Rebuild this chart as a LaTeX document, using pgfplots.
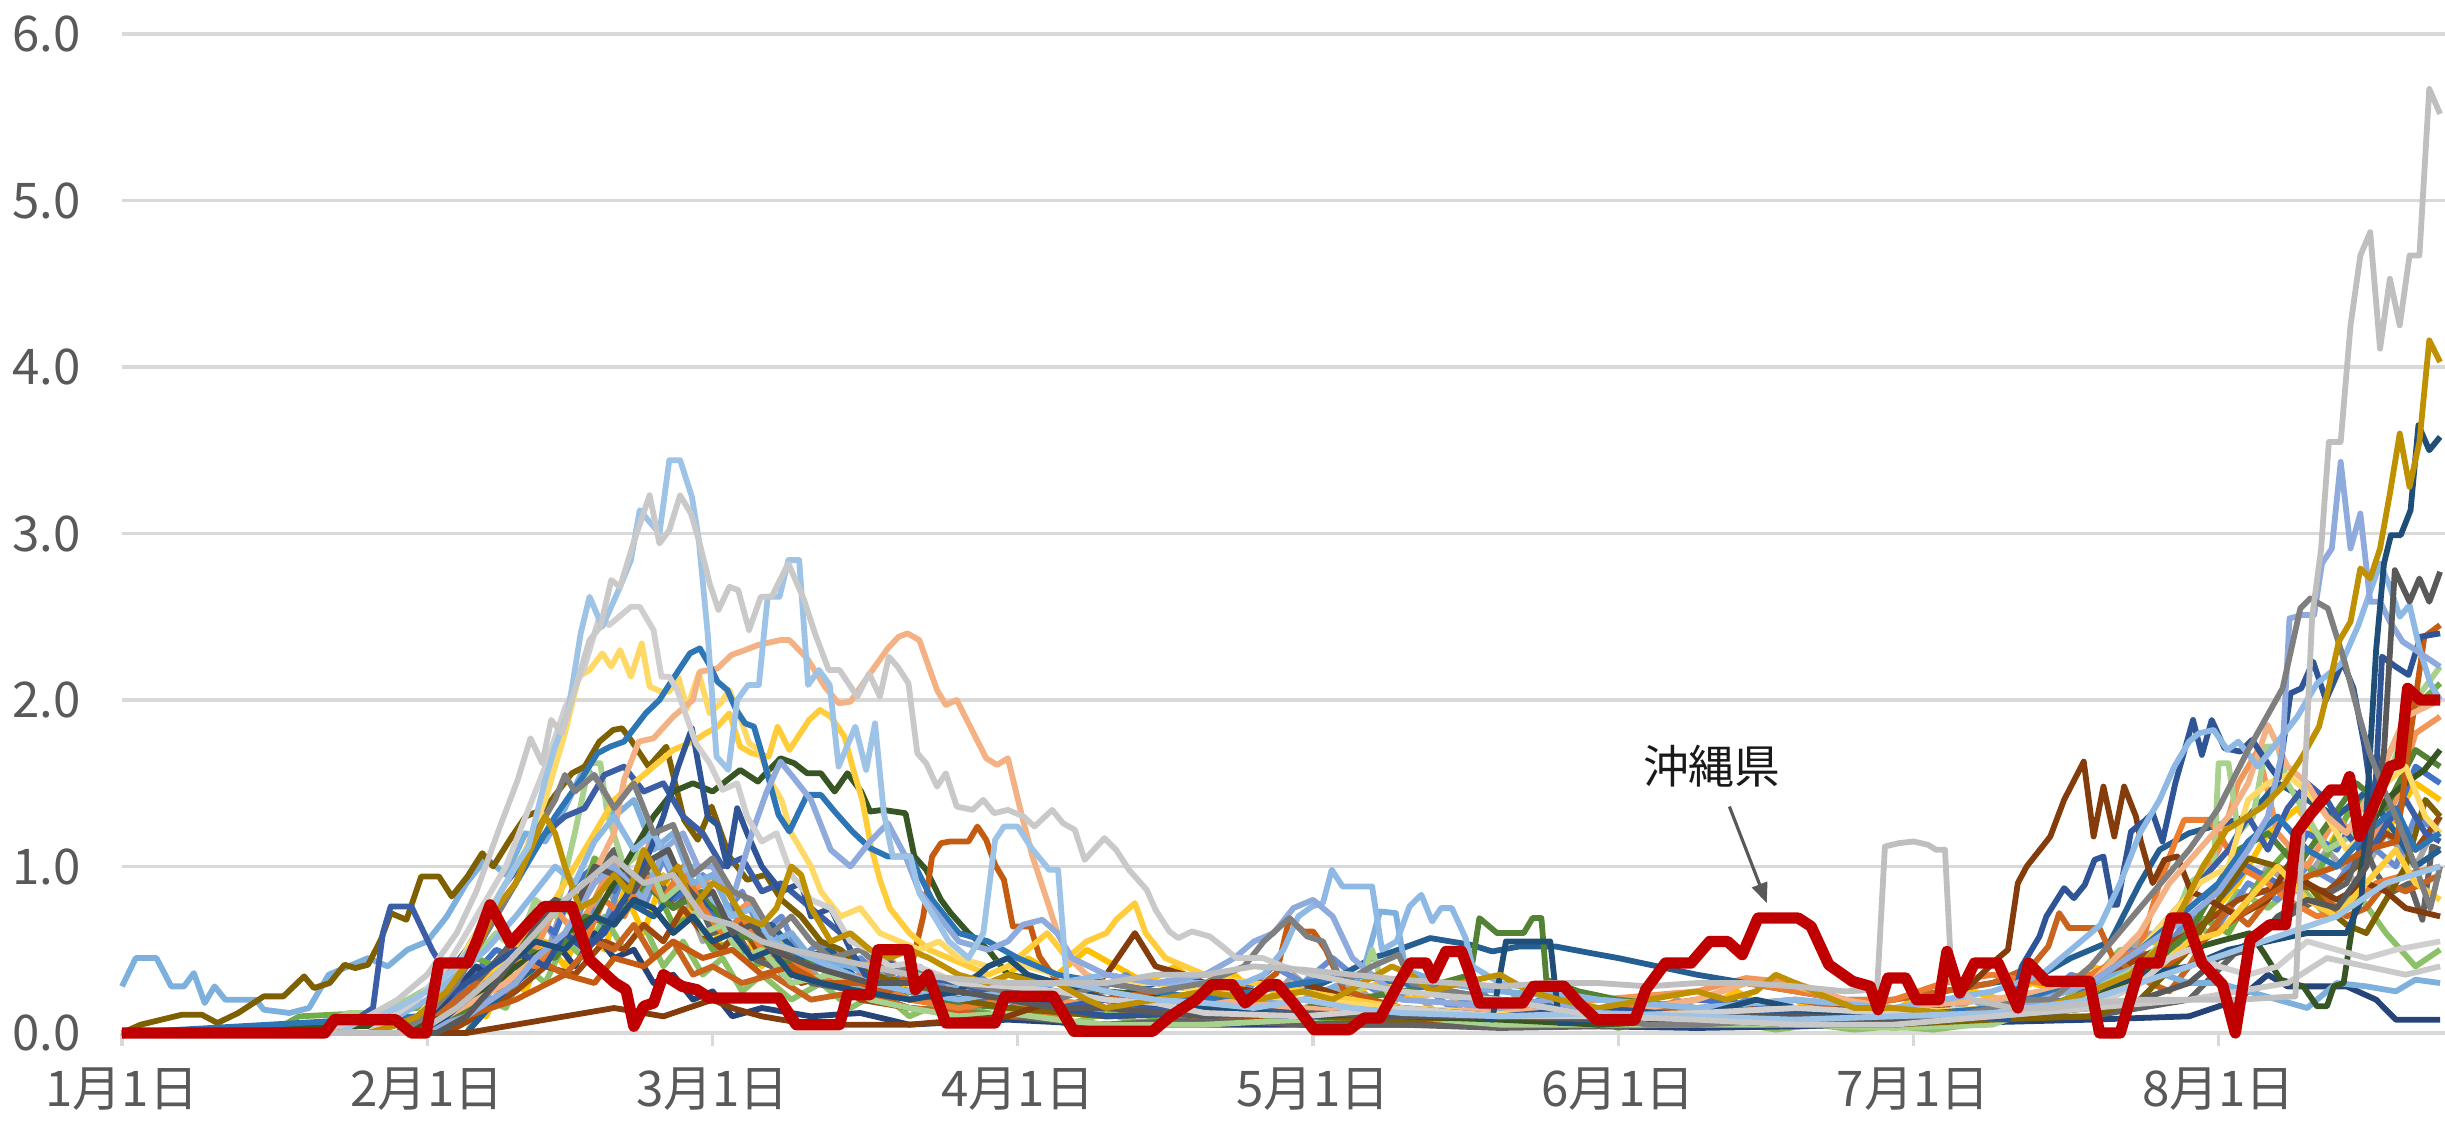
\documentclass[border=0pt]{standalone}
\usepackage{fontspec}
\setmainfont{Noto Sans CJK JP}
\usepackage{pgfplots}
\pgfplotsset{compat=1.18}
\usetikzlibrary{arrows.meta}
\definecolor{cA}{HTML}{C9C9C9}
\definecolor{cB}{HTML}{D0CECE}
\definecolor{cC}{HTML}{BFBFBF}
\definecolor{cGs}{HTML}{7F7F7F}
\definecolor{cGd}{HTML}{595959}
\definecolor{cGold}{HTML}{BF9000}
\definecolor{cNavy}{HTML}{1F4E79}
\definecolor{cPeri}{HTML}{8FAADC}
\definecolor{cLBa}{HTML}{9DC3E6}
\definecolor{cLBb}{HTML}{8DB9E4}
\definecolor{cLBc}{HTML}{7EB0DE}
\definecolor{cDB}{HTML}{2F5597}
\definecolor{cDBb}{HTML}{3B5EA6}
\definecolor{cBlue}{HTML}{2E75B6}
\definecolor{cSal}{HTML}{F4B183}
\definecolor{cYa}{HTML}{FFD966}
\definecolor{cYb}{HTML}{FFCC3A}
\definecolor{cDG}{HTML}{375623}
\definecolor{cGm}{HTML}{548235}
\definecolor{cLG}{HTML}{A9D18E}
\definecolor{cBr}{HTML}{843C0C}
\definecolor{cOB}{HTML}{C55A11}
\definecolor{cOBb}{HTML}{C8641E}
\definecolor{cOr}{HTML}{ED7D31}
\definecolor{cOl}{HTML}{7F6000}
\definecolor{cSB}{HTML}{255E91}
\definecolor{cFa}{HTML}{4472C4}
\definecolor{cFb}{HTML}{70AD47}
\definecolor{cFc}{HTML}{F1975A}
\definecolor{cFd}{HTML}{264478}
\definecolor{cFe}{HTML}{9E480E}
\definecolor{cFf}{HTML}{636363}
\definecolor{cJa}{HTML}{A5A5A5}
\definecolor{cJb}{HTML}{FFC000}
\definecolor{cJc}{HTML}{8CC168}
\definecolor{cJd}{HTML}{698ED0}
\definecolor{okired}{HTML}{C00000}
\definecolor{gridc}{HTML}{D9D9D9}
\definecolor{labc}{HTML}{595959}
\begin{document}
\begin{tikzpicture}
\useasboundingbox (-1.22cm,-0.91cm) rectangle (23.23cm,10.33cm);
\begin{axis}[
  at={(0,0)}, anchor=south west,
  scale only axis, width=23.23cm, height=9.99cm,
  xmin=0, xmax=236, ymin=0, ymax=6,
  clip=false,
  axis line style={draw=none},
  ymajorgrids, grid style={draw=gridc, line width=0.9pt},
  ytick={0,1,2,3,4,5,6}, yticklabels={0.0,1.0,2.0,3.0,4.0,5.0,6.0},
  xtick={0,31,60,91,121,152,182,213},
  xticklabels={1月1日,2月1日,3月1日,4月1日,5月1日,6月1日,7月1日,8月1日},
  xtick pos=bottom,
  tick align=outside,
  major tick length=0.13cm,
  xtick style={draw=gridc, line width=0.9pt},
  ytick style={draw=none},
  ticklabel style={font=\fontsize{14}{16}\selectfont, text=labc},
  yticklabel style={xshift=-0.16cm},
  xticklabel style={yshift=-0.09cm},
  every axis plot/.append style={line width=1.65pt, line join=round, mark=none},
]
% fillers
\addplot[cJa] coordinates {(0,0)(30,0)(33,0.2)(35,0.1)(37,0.4)(39,0.3)(41,0.6)(43,0.45)(45,0.8)(47,0.6)(49,0.9)(51,0.7)(53,1.0)(55,0.75)(57,0.85)(59,0.55)(61,0.7)(63,0.45)(65,0.6)(67,0.35)(69,0.5)(71,0.3)(73,0.4)(75,0.25)(77,0.35)(80,0.2)(83,0.3)(86,0.15)(89,0.25)(92,0.1)(95,0.2)(98,0.3)(101,0.15)(104,0.25)(107,0.1)(110,0.2)(113,0.3)(116,0.15)(119,0.35)(122,0.2)(125,0.3)(128,0.15)(131,0.25)(134,0.1)(137,0.2)(140,0.3)(143,0.15)(146,0.25)(149,0.1)(152,0.2)(155,0.1)(158,0.2)(161,0.1)(164,0.25)(167,0.15)(170,0.2)(173,0.1)(176,0.15)(179,0.05)(182,0.15)(185,0.1)(188,0.2)(191,0.1)(194,0.2)(197,0.3)(200,0.25)(203,0.45)(206,0.6)(209,0.5)(212,0.8)(215,0.7)(218,1.0)(221,0.85)(224,1.1)(227,0.9)(230,1.2)(233,1.0)(235.5,1.3)};
\addplot[cJb] coordinates {(0,0)(33,0)(35,0.15)(37,0.1)(39,0.35)(41,0.25)(43,0.55)(45,0.4)(47,0.7)(49,0.5)(51,0.85)(53,0.6)(55,0.95)(57,0.7)(59,0.8)(61,0.5)(63,0.65)(65,0.4)(67,0.55)(69,0.35)(71,0.45)(74,0.3)(77,0.4)(80,0.25)(83,0.35)(86,0.2)(89,0.3)(92,0.45)(95,0.35)(98,0.5)(101,0.4)(104,0.3)(107,0.4)(110,0.25)(113,0.35)(116,0.2)(119,0.3)(122,0.15)(125,0.25)(128,0.3)(131,0.2)(134,0.25)(137,0.15)(140,0.2)(143,0.1)(146,0.2)(149,0.15)(152,0.1)(155,0.2)(158,0.1)(161,0.15)(164,0.25)(167,0.15)(170,0.2)(173,0.1)(176,0.15)(179,0.1)(182,0.2)(185,0.15)(188,0.25)(191,0.2)(194,0.3)(197,0.25)(200,0.4)(203,0.35)(206,0.55)(209,0.5)(212,0.7)(215,0.9)(218,1.2)(221,1.35)(224,1.1)(227,1.4)(230,1.2)(233,1.5)(235.5,1.4)};
\addplot[cJc] coordinates {(0,0)(35,0)(37,0.2)(39,0.15)(41,0.4)(43,0.3)(45,0.55)(47,0.45)(49,0.7)(51,0.5)(53,0.65)(55,0.4)(57,0.55)(59,0.35)(61,0.45)(63,0.25)(65,0.35)(68,0.2)(71,0.3)(74,0.15)(77,0.25)(80,0.1)(84,0.2)(88,0.1)(92,0.15)(96,0.05)(100,0.12)(104,0.05)(108,0.1)(112,0.05)(116,0.12)(120,0.05)(124,0.15)(128,0.08)(132,0.12)(136,0.05)(140,0.1)(144,0.05)(148,0.1)(152,0.03)(156,0.08)(160,0.03)(164,0.06)(168,0.02)(172,0.05)(176,0.02)(180,0.04)(184,0.02)(188,0.05)(192,0.1)(196,0.15)(200,0.3)(203,0.5)(206,0.45)(209,0.7)(212,0.6)(215,0.85)(218,0.75)(221,0.9)(224,0.7)(227,0.85)(230,0.6)(233,0.4)(235.5,0.5)};
\addplot[cJd] coordinates {(0,0)(28,0)(31,0.1)(33,0.05)(35,0.25)(37,0.2)(39,0.45)(41,0.35)(43,0.65)(45,0.5)(47,0.8)(49,0.65)(51,0.95)(53,0.75)(55,1.05)(57,0.8)(59,0.95)(61,0.7)(63,0.85)(65,0.6)(67,0.7)(69,0.45)(71,0.55)(73,0.35)(75,0.45)(78,0.3)(81,0.4)(84,0.25)(87,0.35)(90,0.2)(93,0.3)(96,0.15)(99,0.25)(102,0.35)(105,0.2)(108,0.3)(111,0.15)(114,0.25)(117,0.4)(120,0.3)(123,0.45)(126,0.3)(129,0.2)(132,0.3)(135,0.15)(138,0.25)(141,0.1)(144,0.2)(147,0.1)(150,0.15)(153,0.05)(156,0.12)(159,0.05)(162,0.1)(165,0.2)(168,0.1)(171,0.15)(174,0.05)(177,0.1)(180,0.05)(183,0.12)(186,0.08)(189,0.15)(192,0.1)(195,0.2)(198,0.35)(201,0.3)(204,0.5)(207,0.45)(210,0.7)(213,0.65)(216,0.9)(219,0.8)(222,1.0)(225,0.9)(228,1.15)(231,1.0)(233,1.3)(235.5,1.2)};
\addplot[cFa] coordinates {(0,0)(28,0)(32,0.1)(35,0.3)(38,0.5)(40,0.45)(42,0.7)(44,0.6)(46,0.9)(48,1.0)(50,0.85)(52,1.1)(54,0.95)(56,0.8)(58,0.9)(60,0.7)(62,0.75)(64,0.55)(66,0.6)(68,0.4)(70,0.45)(73,0.3)(76,0.35)(80,0.2)(85,0.25)(90,0.15)(95,0.2)(100,0.1)(110,0.15)(120,0.2)(130,0.1)(140,0.15)(150,0.1)(160,0.2)(170,0.15)(180,0.1)(190,0.15)(198,0.2)(203,0.4)(207,0.6)(210,0.5)(213,0.8)(216,1.0)(219,0.9)(222,1.2)(225,1.1)(228,1.4)(231,1.3)(233,1.6)(235.5,1.5)};
\addplot[cFb] coordinates {(0,0)(15,0)(18,0.1)(25,0.12)(30,0.15)(33,0.3)(36,0.45)(38,0.4)(40,0.6)(42,0.55)(44,0.8)(46,0.7)(48,1.05)(50,0.95)(52,0.8)(54,0.9)(56,0.65)(58,0.7)(60,0.5)(62,0.55)(64,0.4)(66,0.45)(68,0.3)(72,0.35)(75,0.2)(80,0.25)(85,0.15)(90,0.1)(100,0.05)(110,0.1)(120,0.08)(130,0.1)(140,0.05)(150,0.08)(160,0.05)(170,0.1)(180,0.05)(190,0.08)(200,0.15)(205,0.3)(208,0.5)(211,0.7)(214,0.6)(217,0.9)(220,1.1)(223,0.95)(226,1.3)(229,1.5)(232,1.9)(235.5,2.1)};
\addplot[cFc] coordinates {(0,0)(32,0)(35,0.15)(38,0.35)(40,0.6)(42,0.5)(44,0.75)(46,0.6)(48,0.8)(50,1.05)(52,0.9)(54,1.2)(56,1.0)(58,0.85)(60,0.95)(62,0.7)(64,0.8)(66,0.55)(68,0.6)(70,0.45)(72,0.5)(75,0.4)(78,0.45)(80,0.3)(85,0.25)(90,0.3)(95,0.2)(100,0.15)(110,0.1)(120,0.15)(130,0.1)(140,0.12)(150,0.2)(160,0.25)(165,0.33)(170,0.3)(175,0.2)(180,0.1)(190,0.15)(200,0.3)(205,0.5)(210,0.8)(213,1.1)(215,1.5)(217,1.7)(219,1.2)(222,1.0)(225,1.3)(228,1.1)(231,1.4)(233,1.8)(235.5,1.9)};
\addplot[cFd] coordinates {(0,0)(30,0)(33,0.2)(36,0.4)(38,0.3)(40,0.5)(42,0.4)(44,0.55)(46,0.4)(48,0.6)(50,0.45)(52,0.5)(54,0.3)(56,0.35)(58,0.2)(60,0.25)(62,0.1)(65,0.15)(70,0.1)(75,0.12)(80,0.05)(90,0.08)(100,0.05)(120,0.05)(140,0.05)(160,0.03)(180,0.05)(200,0.08)(210,0.1)(215,0.2)(218,0.35)(220,0.28)(223,0.28)(226,0.28)(229,0.2)(231,0.08)(235.5,0.08)};
\addplot[cFe] coordinates {(0,0)(33,0)(36,0.1)(40,0.25)(43,0.4)(46,0.35)(49,0.55)(51,0.5)(53,0.65)(55,0.55)(57,0.75)(59,0.6)(61,0.5)(63,0.65)(65,0.45)(67,0.5)(69,0.3)(72,0.35)(75,0.2)(80,0.15)(90,0.1)(100,0.15)(110,0.1)(120,0.05)(140,0.08)(160,0.05)(180,0.1)(190,0.1)(195,0.2)(200,0.3)(205,0.45)(210,0.6)(215,0.8)(220,0.9)(224,0.85)(227,1.0)(230,1.2)(233,1.1)(235.5,1.3)};
\addplot[cFf] coordinates {(0,0)(25,0)(28,0.05)(32,0.1)(36,0.3)(39,0.5)(42,0.7)(44,0.8)(46,0.75)(48,0.95)(50,1.1)(52,0.9)(54,1.0)(56,0.75)(58,0.85)(60,0.6)(62,0.65)(64,0.45)(66,0.4)(68,0.5)(70,0.3)(75,0.25)(80,0.15)(90,0.1)(100,0.05)(110,0.08)(120,0.05)(130,0.05)(140,0.03)(160,0.05)(180,0.08)(200,0.1)(210,0.2)(215,0.5)(220,0.7)(223,0.8)(226,0.9)(227.7,1.14)(229,0.96)(230.4,0.84)(232.4,0.9)(233.7,0.68)(234.7,1.12)(235.5,1.1)};
% named series
\addplot[cSB] coordinates {(0,0)(35,0)(38,0.2)(42,0.4)(45,0.6)(48,0.55)(51,0.8)(54,0.7)(57,0.9)(60,0.75)(63,0.6)(66,0.65)(69,0.45)(72,0.5)(75,0.3)(80,0.25)(85,0.2)(90,0.3)(95,0.25)(100,0.2)(105,0.3)(110,0.25)(115,0.2)(120,0.25)(124,0.35)(127,0.45)(129.2,0.49)(132.9,0.57)(137,0.53)(139.2,0.49)(142,0.52)(145.6,0.52)(149.2,0.48)(152,0.45)(156,0.4)(160,0.35)(165,0.3)(170,0.25)(175,0.2)(180,0.2)(185,0.25)(190,0.3)(195,0.35)(198,0.45)(202,0.55)(205,0.9)(207,1.1)(210,1.2)(213,1.25)(216,1.3)(219,1.5)(222,1.4)(225,1.3)(228,1.45)(231,1.2)(233,1.0)(235.5,1.1)};
\addplot[cGm] coordinates {(0,0)(30,0)(34,0.1)(38,0.3)(41,0.5)(44,0.45)(47,0.7)(50,0.65)(53,0.9)(56,0.75)(59,0.85)(62,0.6)(65,0.55)(68,0.4)(71,0.45)(75,0.3)(80,0.2)(90,0.15)(100,0.1)(110,0.15)(115,0.2)(120,0.15)(125,0.2)(130,0.25)(134,0.3)(137,0.35)(137.9,0.69)(139.7,0.6)(142.4,0.6)(143.3,0.69)(144.2,0.69)(144.7,0.32)(148,0.25)(152,0.2)(160,0.15)(170,0.1)(180,0.08)(190,0.1)(200,0.2)(205,0.35)(210,0.6)(213,0.9)(215,1.1)(218,1.2)(221,1.0)(224,1.25)(227,1.5)(230,1.35)(233,1.7)(235.5,1.6)};
\addplot[cOBb] coordinates {(0,0)(30,0)(33,0.15)(36,0.3)(39,0.25)(42,0.45)(45,0.35)(48,0.55)(50,0.5)(52,0.65)(54,0.45)(56,0.55)(58,0.35)(60,0.4)(63,0.3)(66,0.35)(70,0.2)(75,0.25)(80,0.15)(90,0.1)(100,0.15)(110,0.1)(120,0.12)(130,0.1)(140,0.15)(150,0.1)(160,0.15)(170,0.2)(175,0.15)(180,0.2)(185,0.25)(190,0.3)(194,0.4)(195.7,0.52)(196.8,0.72)(197.8,0.63)(200.9,0.63)(202.2,0.46)(204,0.38)(206,0.3)(208,0.25)(210,0.4)(212,0.6)(214,0.75)(216,0.65)(218,0.8)(220,1.0)(222,0.9)(224,0.8)(226,0.7)(228,0.75)(230,0.9)(232,0.85)(235.5,0.95)};
\addplot[cOr] coordinates {(0,0)(30,0)(33,0.1)(36,0.25)(39,0.45)(42,0.4)(45,0.6)(47,0.55)(49,0.8)(51,0.7)(53,0.95)(55,0.8)(57,1.0)(59,0.75)(61,0.6)(63,0.7)(65,0.5)(68,0.45)(71,0.3)(75,0.35)(80,0.2)(85,0.15)(90,0.2)(95,0.1)(100,0.15)(110,0.1)(120,0.12)(130,0.15)(140,0.1)(150,0.12)(160,0.2)(165,0.3)(170,0.25)(175,0.2)(180,0.2)(185,0.3)(190,0.35)(195,0.3)(200,0.35)(203,0.45)(205,0.5)(207,0.9)(208.8,1.18)(209.5,1.28)(212,1.28)(213,1.2)(215,1.0)(218,0.9)(220,0.8)(223,0.7)(226,0.75)(229,0.9)(232,0.95)(235.5,1.0)};
\addplot[cLBc] coordinates {(0,0.28)(1.4,0.45)(3.5,0.45)(5,0.28)(6.3,0.28)(7.3,0.36)(8.4,0.18)(9.4,0.28)(10.5,0.2)(13.6,0.2)(14.4,0.14)(17,0.12)(19,0.15)(21,0.35)(23,0.4)(25,0.45)(27,0.4)(29,0.5)(31,0.55)(33,0.7)(35,0.9)(37,1.05)(39,0.95)(41,1.2)(43,1.15)(45,1.35)(47,1.6)(48.5,1.5)(50,1.3)(52,1.4)(54,1.1)(56,1.2)(58,0.9)(60,0.95)(62,0.7)(64,0.75)(66,0.55)(68,0.6)(70,0.45)(74,0.4)(78,0.3)(82,0.35)(86,0.25)(90,0.2)(95,0.15)(100,0.2)(110,0.15)(120,0.2)(126,0.35)(127.8,0.73)(129.4,0.72)(130.4,0.38)(134,0.3)(140,0.25)(150,0.2)(160,0.15)(170,0.2)(180,0.15)(190,0.2)(200,0.3)(205,0.4)(210,0.3)(213,0.3)(216,0.25)(219,0.2)(222,0.15)(225,0.3)(228,0.28)(231,0.25)(233,0.32)(235.5,0.3)};
\addplot[cLG] coordinates {(0,0)(15,0)(20,0.05)(23,0.12)(26,0.12)(29,0.2)(32,0.3)(35,0.4)(38,0.6)(40,0.5)(42,0.8)(44,0.7)(46,1.2)(47.5,1.62)(48.6,1.62)(49.3,1.32)(51,1.0)(53,1.1)(55,0.8)(57,0.9)(59,0.6)(61,0.65)(63,0.45)(65,0.5)(68,0.3)(72,0.35)(76,0.2)(80,0.15)(85,0.1)(90,0.12)(95,0.08)(100,0.05)(110,0.05)(120,0.08)(125,0.12)(127,0.5)(128,0.3)(130,0.1)(140,0.05)(150,0.05)(160,0.05)(170,0.05)(180,0.03)(190,0.05)(195,0.15)(200,0.25)(205,0.4)(208,0.6)(210,0.9)(212.5,1.0)(213,1.62)(214,1.62)(215,1.2)(216.5,1.3)(217.8,1.72)(219,1.72)(220,1.5)(222,1.3)(224,1.1)(227,1.2)(230,1.5)(233,2.0)(235.5,2.2)};
\addplot[cOl] coordinates {(0,0)(1.9,0.05)(6.1,0.11)(8.1,0.11)(9.7,0.06)(11.8,0.12)(14.4,0.22)(16.4,0.22)(18.5,0.34)(19.5,0.27)(21.1,0.3)(22.6,0.41)(23.7,0.39)(25,0.41)(26.3,0.56)(27.3,0.72)(28.9,0.68)(30.4,0.94)(32.2,0.94)(33.5,0.82)(35.1,0.94)(36.6,1.08)(37.7,1.0)(39.5,1.17)(41,1.3)(43,1.35)(45.7,1.56)(47,1.6)(48.5,1.75)(49.9,1.82)(50.8,1.83)(51.7,1.76)(53.5,1.6)(55.3,1.72)(57.1,1.28)(58.5,1.16)(59.9,1.36)(61.7,1.06)(63.5,0.92)(65.4,0.95)(67,0.8)(69,0.7)(71,0.55)(73,0.5)(76,0.35)(80,0.3)(85,0.2)(90,0.15)(100,0.1)(110,0.12)(120,0.1)(130,0.08)(140,0.1)(150,0.05)(160,0.08)(170,0.05)(180,0.05)(190,0.08)(200,0.1)(205,0.2)(210,0.5)(213,0.8)(216,1.05)(219,1.0)(222,0.9)(224,0.75)(226,0.65)(228,0.6)(230,0.8)(232,1.0)(234,1.4)(235.5,1.3)};
\addplot[cDBb] coordinates {(0,0)(20,0)(23,0.05)(25.5,0.15)(26.5,0.6)(27.3,0.76)(29.4,0.76)(31.5,0.5)(33,0.35)(35,0.5)(37,0.7)(39,0.9)(41,1.05)(43,1.2)(45,1.3)(47,1.35)(49,1.55)(51,1.6)(53,1.45)(55,1.5)(57,1.3)(59,1.2)(61,1.0)(63,1.05)(65,0.85)(67,0.9)(70,0.75)(73,0.6)(76,0.5)(80,0.35)(85,0.3)(90,0.2)(95,0.15)(100,0.2)(110,0.1)(120,0.15)(130,0.1)(140,0.15)(145,0.2)(150,0.1)(160,0.05)(170,0.1)(180,0.1)(185,0.15)(190,0.1)(195,0.2)(200,0.3)(205,0.5)(208,0.7)(211,0.9)(214,1.1)(216,1.3)(218,1.1)(220,1.35)(222,1.5)(224,1.4)(226,1.2)(228,1.05)(230,1.25)(232,1.4)(234,1.2)(235.5,1.15)};
\addplot[cDG] coordinates {(0,0)(30,0.05)(33,0.1)(35,0.2)(38,0.3)(40,0.4)(43,0.5)(45,0.6)(48,0.7)(50,0.9)(52,1.1)(54,1.3)(56,1.45)(58,1.5)(60,1.45)(62.8,1.58)(64.6,1.51)(66.9,1.65)(68.3,1.62)(69.6,1.56)(71,1.56)(72.4,1.45)(73.7,1.56)(75.1,1.45)(76,1.33)(77.3,1.34)(79.6,1.32)(80.5,1.06)(81.7,0.98)(83.2,0.8)(84.2,0.72)(86,0.6)(88,0.5)(90,0.35)(95,0.3)(100,0.25)(110,0.2)(120,0.15)(130,0.1)(140,0.08)(150,0.05)(160,0.08)(170,0.05)(180,0.05)(190,0.1)(200,0.2)(205,0.35)(210,0.5)(213,0.55)(216.2,0.6)(217.6,0.48)(219.3,0.32)(221.6,0.28)(223,0.16)(224,0.16)(224.7,0.28)(225.7,0.3)(227,0.8)(228,1.2)(230,1.4)(232,1.5)(233.9,1.58)(235.5,1.7)};
\addplot[cBr] coordinates {(0,0)(35,0)(40,0.05)(45,0.1)(50,0.15)(55,0.1)(60,0.2)(62,0.15)(65,0.1)(70,0.05)(80,0.05)(90,0.1)(95,0.2)(100,0.35)(102.9,0.6)(105,0.4)(108,0.35)(110,0.3)(115,0.25)(120,0.3)(125,0.2)(130,0.15)(140,0.1)(150,0.08)(160,0.1)(165,0.15)(170,0.1)(175,0.15)(180,0.1)(185,0.15)(188,0.3)(190.6,0.45)(191.6,0.5)(192.6,0.9)(193.5,1.0)(195.9,1.18)(197.3,1.4)(199.3,1.63)(200.3,1.18)(201.3,1.48)(202.4,1.18)(203.4,1.48)(204.6,1.3)(205.1,1.15)(206.3,0.9)(207.5,1.04)(208.8,1.06)(210.2,0.85)(212,0.8)(215,0.7)(218,0.8)(220,1.0)(222,0.9)(225,0.8)(228,0.9)(230,0.85)(232,0.75)(235.5,0.7)};
\addplot[cOB] coordinates {(0,0)(30,0)(35,0.1)(40,0.2)(45,0.35)(48,0.3)(50,0.45)(53,0.4)(56,0.55)(59,0.45)(62,0.5)(65,0.35)(68,0.4)(71,0.3)(75,0.3)(78,0.25)(80,0.35)(81.4,0.7)(82.3,1.06)(83.2,1.14)(84.1,1.15)(86,1.15)(86.9,1.24)(87.8,1.16)(88.7,1.01)(89.6,0.92)(90.5,0.64)(92.3,0.64)(93.2,0.46)(95,0.31)(98,0.25)(100,0.2)(105,0.25)(110,0.2)(114,0.3)(116,0.3)(117.3,0.36)(118.6,0.69)(120,0.61)(121,0.61)(122.3,0.5)(124.1,0.26)(127,0.2)(130,0.15)(140,0.1)(150,0.15)(160,0.1)(170,0.12)(180,0.1)(190,0.15)(200,0.2)(205,0.3)(210,0.5)(215,0.7)(220,0.9)(225,1.0)(228,1.1)(231.1,1.15)(232.5,1.8)(233.9,2.38)(235.5,2.45)};
\addplot[cYb] coordinates {(0,0)(30,0)(33,0.1)(36,0.25)(40,0.5)(43,0.7)(45,0.9)(48,1.2)(50,1.4)(52,1.5)(54,1.6)(56,1.7)(58,1.75)(59.3,1.8)(60.5,1.84)(61.7,1.92)(62.8,1.72)(64,1.68)(65.7,1.66)(66.6,1.84)(67.8,1.7)(69.8,1.88)(70.9,1.94)(72,1.9)(73.4,1.78)(74.3,1.58)(75.2,1.4)(76.1,1.12)(77,0.92)(78,0.75)(80,0.6)(82,0.5)(84,0.45)(86,0.4)(88,0.35)(90,0.4)(92,0.5)(94,0.6)(96,0.45)(98,0.55)(100,0.6)(101,0.68)(102.9,0.78)(104,0.6)(106,0.45)(108,0.4)(110,0.35)(115,0.3)(120,0.25)(125,0.2)(130,0.15)(140,0.12)(150,0.1)(160,0.12)(170,0.15)(180,0.1)(190,0.15)(200,0.2)(205,0.3)(210,0.55)(213,0.6)(216,0.8)(219,1.0)(222,0.8)(225,0.7)(228,0.9)(231,1.1)(233,0.9)(235.5,0.8)};
\addplot[cYa] coordinates {(0,0)(28,0)(30,0.1)(33,0.3)(36,0.6)(39,0.9)(41,1.1)(43,1.4)(45,1.8)(46.4,2.14)(47.5,2.18)(48.8,2.28)(49.7,2.2)(50.6,2.3)(51.7,2.14)(52.8,2.34)(53.6,2.08)(54.8,2.05)(55.6,2.05)(56.5,2.14)(57.4,1.95)(58.6,2.16)(59.7,1.92)(60.8,1.98)(61.7,2.06)(62.9,1.88)(63.7,1.74)(64.7,1.7)(66,1.5)(67,1.4)(68,1.2)(69,1.1)(70,1.0)(71,0.85)(73,0.7)(75,0.75)(77,0.6)(79,0.55)(81,0.5)(83,0.55)(85,0.45)(88,0.4)(90,0.45)(92,0.4)(95,0.35)(100,0.3)(105,0.3)(110,0.25)(120,0.2)(130,0.15)(140,0.12)(150,0.1)(160,0.12)(170,0.1)(180,0.12)(190,0.15)(195,0.2)(200,0.3)(205,0.5)(208,0.7)(211,0.9)(214,1.0)(216,1.4)(218,1.5)(220,1.55)(222,1.45)(224,1.3)(226,1.1)(228,1.2)(230,1.5)(232,1.6)(234,1.3)(235.5,1.2)};
\addplot[cSal] coordinates {(0,0)(30,0)(33,0.1)(36,0.2)(39,0.3)(42,0.45)(45,0.6)(48,0.96)(50,1.2)(51,1.52)(52.5,1.75)(54,1.77)(56,1.9)(58,2.0)(58.7,2.17)(60.5,2.19)(61.9,2.27)(63.3,2.3)(64.6,2.33)(66.9,2.36)(67.8,2.36)(69.6,2.25)(71.4,2.08)(72.8,1.98)(74,1.99)(76,2.16)(77.8,2.31)(78.9,2.38)(79.8,2.4)(81,2.36)(82.8,2.06)(83.7,1.97)(84.8,2.0)(87.8,1.65)(88.9,1.61)(90,1.65)(91.4,1.31)(92.5,1.06)(93.9,0.81)(95,0.61)(96.4,0.44)(98,0.35)(100,0.3)(105,0.25)(110,0.2)(120,0.15)(130,0.1)(140,0.15)(150,0.1)(160,0.2)(165,0.3)(170,0.28)(175,0.2)(180,0.15)(190,0.2)(200,0.3)(205,0.6)(208,0.9)(211,1.1)(214,1.3)(216,1.5)(218,1.85)(220,1.6)(222,1.5)(224,1.3)(226,1.2)(229,1.5)(232,1.9)(235.5,2.0)};
\addplot[cBlue] coordinates {(0,0)(30,0.1)(33,0.25)(36,0.5)(39,0.8)(42,1.1)(44,1.3)(46.6,1.52)(48.3,1.68)(49.6,1.72)(51,1.75)(53.2,1.92)(54.6,2.0)(55.9,2.12)(56.8,2.2)(57.7,2.28)(58.7,2.31)(59.6,2.22)(60.5,2.11)(61.5,2.06)(62.4,1.94)(63.3,1.86)(64.2,1.84)(65.1,1.66)(66,1.46)(66.7,1.31)(67.8,1.21)(69.6,1.43)(71,1.43)(72.4,1.33)(74.2,1.21)(76,1.11)(77.8,1.06)(80.1,1.06)(82.3,0.8)(85,0.6)(88,0.55)(91,0.45)(95,0.35)(100,0.3)(105,0.25)(110,0.2)(120,0.3)(125,0.35)(130,0.3)(140,0.2)(150,0.15)(160,0.1)(170,0.15)(180,0.1)(190,0.15)(200,0.3)(205,0.5)(210,0.75)(213,0.9)(216,1.15)(219,1.3)(222,1.1)(225,1.0)(228,1.2)(231,1.35)(233,1.1)(235.5,1.2)};
\addplot[cDB] coordinates {(0,0)(28,0)(30,0.1)(35,0.3)(40,0.5)(43,0.4)(45,0.6)(47,0.5)(49,0.6)(51,0.8)(53,1.0)(55,1.3)(56.5,1.6)(57.9,1.83)(58.6,1.6)(59.5,1.3)(60.5,1.25)(61.5,1.0)(62.5,1.35)(63.5,1.2)(65,1.0)(67,0.85)(69,0.9)(70,0.7)(72,0.75)(74,0.5)(76,0.3)(80,0.25)(85,0.2)(90,0.25)(95,0.15)(100,0.1)(110,0.12)(120,0.1)(130,0.15)(140,0.1)(150,0.15)(160,0.1)(170,0.12)(180,0.1)(188,0.1)(191.6,0.08)(193,0.4)(194.8,0.58)(195.5,0.7)(197.3,0.87)(198.3,0.81)(199.4,0.89)(200.4,1.04)(201.3,1.06)(202.2,0.77)(202.7,0.77)(204.1,1.21)(205.4,1.27)(206.3,1.32)(207.3,1.15)(208.6,1.5)(210.4,1.88)(211.3,1.67)(212.3,1.88)(213.6,1.71)(215.2,1.69)(216.4,1.76)(218.2,1.6)(219.1,1.53)(220.3,2.04)(221.4,2.07)(222.6,2.23)(223.9,2.0)(225.6,2.23)(226.7,2.07)(227.8,1.73)(228.8,1.31)(229.6,2.26)(231,2.2)(232.3,2.15)(233.5,2.38)(235.5,2.4)};
\addplot[cLBb] coordinates {(0,0)(25,0)(28,0.1)(31,0.2)(34,0.35)(37,0.5)(40,0.7)(42,0.85)(44,1.0)(46,0.9)(48,1.15)(50,1.3)(52,1.1)(54,1.2)(56,0.95)(58,1.0)(60,0.8)(62,0.7)(64,0.75)(66,0.55)(68,0.5)(72,0.4)(76,0.3)(80,0.25)(85,0.2)(90,0.25)(95,0.3)(100,0.35)(105,0.3)(110,0.3)(114,0.3)(116,0.35)(118,0.5)(119.5,0.7)(120.9,0.76)(122,0.78)(122.9,0.98)(124,0.88)(127,0.88)(128,0.5)(129.5,0.55)(130.8,0.76)(132,0.83)(133.1,0.67)(134,0.75)(135.1,0.75)(136.5,0.57)(137.2,0.4)(140,0.3)(145,0.25)(150,0.2)(160,0.15)(170,0.2)(180,0.15)(190,0.25)(195,0.35)(198,0.5)(201,0.65)(203,0.9)(205,1.2)(207,1.4)(208.5,1.6)(210,1.75)(211,1.8)(212.5,1.82)(213.9,1.7)(215,1.75)(217,1.6)(219,1.75)(221,1.9)(223,2.1)(225.5,2.22)(227.2,2.45)(229.4,2.82)(230.4,2.68)(231.4,2.5)(232.4,2.57)(233.4,2.31)(234.5,2.1)(235.5,2.0)};
\addplot[cPeri] coordinates {(0,0)(30,0)(35,0.1)(40,0.3)(42,0.45)(45,0.6)(48,0.9)(50,1.0)(53,0.8)(55,1.1)(57,1.2)(58.5,1.0)(60,1.0)(62,0.8)(64,1.2)(65.5,1.45)(66.9,1.63)(68,1.55)(70,1.4)(72,1.1)(74,1.0)(76,1.15)(77.8,1.26)(79.6,1.06)(81,0.85)(83,0.7)(85,0.55)(88,0.5)(90,0.55)(91.5,0.65)(93.5,0.68)(95,0.6)(96.5,0.45)(100,0.35)(105,0.3)(110,0.35)(113,0.45)(115,0.55)(117,0.6)(119,0.75)(121,0.8)(123,0.7)(125,0.45)(127,0.35)(130,0.2)(135,0.18)(140,0.15)(145,0.2)(150,0.1)(160,0.12)(170,0.15)(180,0.1)(190,0.1)(195,0.2)(200,0.3)(205,0.5)(210,0.7)(213,0.85)(216,1.1)(218,1.3)(219.5,1.7)(220.2,2.49)(221.5,2.51)(222.7,2.51)(223.5,2.82)(224.5,2.91)(225.4,3.43)(226.4,2.91)(227.4,3.12)(228.4,2.59)(229.4,2.59)(230.4,2.47)(231.7,2.35)(233,2.3)(235.5,2.2)};
\addplot[cNavy] coordinates {(0,0)(30,0)(33,0.1)(36,0.25)(39,0.4)(42,0.55)(45,0.5)(48,0.7)(50,0.65)(52,0.8)(54,0.75)(56,0.6)(58,0.7)(60,0.55)(62,0.6)(64,0.45)(66,0.5)(68,0.35)(71,0.3)(75,0.25)(80,0.2)(85,0.25)(88,0.4)(90,0.45)(92,0.35)(95,0.3)(100,0.2)(110,0.15)(120,0.1)(130,0.12)(138,0.1)(139.2,0.08)(140.6,0.55)(145.1,0.55)(146,0.06)(150,0.08)(160,0.1)(166,0.2)(170,0.15)(175,0.1)(180,0.1)(185,0.12)(190,0.1)(195,0.15)(200,0.25)(205,0.35)(210,0.4)(214,0.5)(218,0.55)(222,0.6)(226,0.6)(227.5,0.8)(228.2,1.5)(229,2.3)(229.8,2.82)(230.5,2.99)(231.5,2.99)(232.5,3.14)(233.3,3.65)(234.4,3.5)(235.5,3.58)};
\addplot[cGd] coordinates {(0,0)(32,0)(35,0.1)(38,0.3)(41,0.55)(44,0.8)(46,0.75)(48,1.0)(50,0.95)(52,0.85)(54,1.05)(55.5,1.1)(57,0.9)(58.5,0.8)(60,0.85)(62,0.6)(64,0.65)(66,0.5)(68,0.45)(70,0.4)(73,0.35)(76,0.3)(80,0.3)(85,0.25)(90,0.2)(95,0.15)(100,0.15)(110,0.1)(120,0.12)(130,0.1)(140,0.1)(150,0.08)(160,0.1)(170,0.1)(180,0.08)(190,0.1)(200,0.15)(205,0.2)(210,0.3)(213,0.45)(216,0.5)(219,0.7)(222,0.8)(225,0.75)(228,1.0)(229.8,1.69)(230.9,2.78)(232.4,2.59)(233.4,2.73)(234.4,2.59)(235.5,2.77)};
\addplot[cGs] coordinates {(0,0)(28,0)(31,0.1)(34,0.3)(37,0.6)(40,0.9)(42,1.2)(44,1.4)(45,1.55)(46,1.45)(48,1.55)(50,1.35)(52,1.5)(54,1.2)(56,1.25)(58,0.95)(60,1.05)(62,0.85)(64,0.8)(66,0.6)(68,0.7)(70,0.55)(72,0.45)(75,0.5)(78,0.35)(80,0.4)(85,0.3)(90,0.25)(95,0.2)(100,0.3)(105,0.25)(110,0.3)(114,0.4)(116,0.55)(118.6,0.69)(120.4,0.58)(122,0.55)(124,0.3)(127,0.4)(129.7,0.47)(131,0.3)(135,0.25)(140,0.2)(145,0.15)(150,0.1)(155,0.05)(160,0.05)(170,0.08)(180,0.1)(186,0.1)(190,0.15)(193,0.2)(196,0.2)(200,0.4)(205,0.75)(210,1.1)(213,1.35)(216,1.7)(219.5,2.07)(221.3,2.55)(222.3,2.61)(224.1,2.55)(225.8,2.23)(227.2,1.92)(228.3,1.69)(229.5,1.5)(231,1.3)(233,1.0)(234.5,0.75)(235.5,1.0)};
\addplot[cB] coordinates {(0,0)(25,0)(30,0.2)(33,0.4)(36,0.7)(39,1.0)(41,1.3)(43,1.6)(45,1.95)(47,2.2)(48.5,2.5)(49.5,2.45)(51.7,2.56)(52.6,2.56)(54,2.42)(54.8,2.14)(55.6,2.14)(56.4,2.06)(58.3,1.74)(59.7,1.62)(61,1.46)(62.5,1.5)(63.5,1.3)(65,1.15)(66.5,1.2)(68,0.95)(70,0.8)(72,0.75)(74,0.55)(76,0.5)(78,0.4)(80,0.42)(85,0.3)(90,0.28)(95,0.25)(100,0.2)(105,0.18)(110,0.12)(120,0.1)(130,0.15)(140,0.1)(150,0.1)(160,0.12)(170,0.15)(180,0.12)(190,0.1)(200,0.15)(205,0.3)(208,0.45)(210,0.5)(213,0.4)(216,0.35)(219,0.4)(222,0.55)(225,0.5)(228,0.45)(231,0.5)(235.5,0.55)};
\addplot[cGold] coordinates {(0,0)(25,0)(28,0.05)(30,0.1)(33,0.25)(36,0.5)(38,0.75)(40,0.9)(41.5,1.1)(43,1.3)(44,1.2)(45,1.0)(46.5,0.75)(48,0.8)(50,0.95)(51.5,0.85)(53,1.1)(55,0.9)(56.5,1.0)(58,0.75)(60,0.9)(61.5,0.85)(63,0.7)(65,0.65)(66.5,0.75)(68,1.0)(69,0.95)(70,0.75)(72,0.55)(74,0.6)(76,0.5)(78,0.45)(80,0.5)(82,0.45)(85,0.35)(88,0.3)(90,0.35)(93,0.3)(95,0.3)(98,0.2)(100,0.15)(105,0.2)(110,0.25)(115,0.2)(120,0.25)(123,0.2)(126,0.3)(129,0.4)(131,0.35)(133,0.25)(136,0.3)(140,0.35)(143,0.25)(146,0.2)(150,0.15)(155,0.2)(160,0.25)(163,0.2)(166,0.25)(168,0.35)(170,0.3)(173,0.22)(176,0.15)(180,0.15)(185,0.12)(190,0.1)(195,0.15)(200,0.25)(204,0.35)(207.1,0.52)(209.4,0.76)(211.4,1.0)(213.8,1.22)(215.4,1.28)(217.5,1.36)(219.5,1.48)(221.5,1.66)(223.2,1.84)(224.2,2.08)(225.2,2.35)(226.4,2.47)(227.4,2.79)(228.4,2.73)(229.4,2.91)(230.4,3.24)(231.4,3.6)(232.4,3.28)(233.4,3.55)(234.4,4.16)(235.5,4.03)};
\addplot[cLBa] coordinates {(0,0)(22,0)(25,0.1)(28,0.15)(31,0.25)(34,0.4)(36.5,0.6)(38.5,0.85)(40,1.0)(41.3,1.12)(43,1.52)(44,1.72)(45.3,1.92)(46.6,2.4)(47.5,2.62)(48.8,2.44)(50.6,2.68)(51.7,2.84)(52.6,3.14)(54.6,3.0)(55.6,3.44)(56.7,3.44)(57.9,3.22)(58.6,2.96)(59.5,2.4)(60.4,1.66)(61.6,1.58)(62.5,2.0)(63.6,2.09)(64.7,2.09)(65.6,2.62)(66.8,2.62)(67.7,2.84)(68.8,2.84)(69.7,2.09)(70.8,2.18)(71.9,2.09)(72.8,1.6)(74.5,1.84)(75.6,1.58)(76.5,1.86)(77.4,1.32)(78.3,1.06)(80.1,1.06)(81,0.84)(82.5,0.7)(84,0.55)(86,0.45)(87.5,0.6)(88.7,1.16)(89.6,1.24)(91,1.24)(92.4,1.11)(94.2,0.98)(95.1,0.98)(96,0.3)(98,0.28)(100,0.25)(105,0.2)(110,0.18)(115,0.15)(120,0.2)(125,0.15)(130,0.12)(140,0.1)(150,0.12)(160,0.1)(170,0.08)(180,0.1)(190,0.12)(200,0.2)(205,0.3)(210,0.4)(215,0.5)(220,0.6)(225,0.7)(230,0.9)(235.5,1.0)};
\addplot[cA] coordinates {(0,0)(20,0)(25,0.1)(28,0.2)(31,0.35)(34,0.6)(36,0.85)(38.4,1.24)(40.2,1.52)(41.5,1.77)(42.7,1.62)(43.6,1.88)(44.7,1.8)(45.8,2.02)(47.5,2.36)(48.6,2.44)(49.7,2.72)(50.6,2.68)(52,2.95)(53.6,3.23)(54.6,2.94)(55.6,3.02)(56.7,3.23)(57.8,3.12)(58.6,2.96)(59.7,2.7)(60.6,2.54)(61.7,2.68)(62.6,2.66)(63.7,2.42)(64.9,2.62)(66,2.62)(67.7,2.82)(69.3,2.6)(70.4,2.4)(71.8,2.18)(72.9,2.18)(74.7,2.02)(75.9,2.16)(77,2.02)(77.9,2.26)(78.8,2.2)(79.9,2.1)(80.8,1.68)(81.7,1.62)(82.8,1.48)(83.7,1.56)(84.8,1.36)(86.4,1.34)(87.5,1.4)(88.6,1.32)(90,1.34)(91.6,1.3)(92.7,1.24)(94.5,1.34)(95.6,1.26)(96.8,1.22)(97.8,1.04)(99.8,1.17)(101,1.1)(102.3,0.98)(104.1,0.86)(105,0.74)(106.4,0.61)(107.3,0.57)(108.7,0.61)(110.5,0.58)(111.8,0.52)(113.2,0.45)(115.9,0.45)(118,0.4)(121,0.35)(125,0.3)(130,0.25)(135,0.22)(140,0.2)(145,0.15)(150,0.1)(160,0.08)(170,0.05)(180,0.05)(190,0.1)(200,0.15)(210,0.2)(215,0.25)(220,0.3)(224,0.45)(228,0.4)(232,0.35)(235.5,0.4)};
\addplot[cC] coordinates {(0,0)(30,0)(34,0.15)(38,0.35)(42,0.6)(45,0.8)(48,0.95)(50,1.05)(53,0.9)(56,0.95)(59,0.7)(62,0.65)(65,0.55)(68,0.5)(72,0.45)(76,0.4)(80,0.35)(90,0.3)(100,0.3)(105,0.35)(110,0.35)(115,0.4)(120,0.38)(125,0.35)(130,0.32)(135,0.3)(140,0.28)(145,0.3)(150,0.3)(155,0.28)(160,0.3)(165,0.3)(170,0.28)(175,0.25)(178.3,0.26)(179.1,1.12)(180.5,1.14)(182,1.15)(183.5,1.13)(184.3,1.1)(185.2,1.1)(185.9,0.3)(188,0.2)(192,0.15)(196,0.15)(200,0.18)(205,0.2)(210,0.2)(215,0.2)(220.8,0.22)(221.8,1.6)(222.5,2.5)(223.4,2.9)(224.2,3.55)(225.4,3.55)(226.4,4.25)(227.4,4.67)(228.4,4.81)(229.4,4.11)(230.4,4.53)(231.4,4.25)(232.4,4.67)(233.4,4.67)(234.4,5.67)(235.5,5.52)};
% Okinawa
\addplot[okired, line width=3.2pt] coordinates {(0,0)(20.6,0)(21.6,0.08)(27.8,0.08)(29.4,0)(30.9,0)(32.2,0.42)(35.1,0.42)(36.1,0.56)(37.4,0.77)(39.5,0.54)(41.3,0.66)(42.9,0.76)(45.7,0.76)(47.5,0.44)(50.1,0.3)(51.2,0.26)(52,0.04)(53,0.16)(54,0.18)(55,0.35)(56.9,0.28)(58.4,0.26)(59.7,0.21)(66.7,0.21)(68.5,0.05)(72.9,0.05)(73.7,0.23)(76,0.23)(76.8,0.5)(79.9,0.5)(80.6,0.26)(81.9,0.35)(83.7,0.06)(88.7,0.06)(89.7,0.22)(94.6,0.22)(96.7,0.01)(104.7,0.01)(106.5,0.1)(109.1,0.2)(110.7,0.29)(112.8,0.29)(114.1,0.18)(116.4,0.29)(117.4,0.29)(119,0.18)(121.1,0.02)(124.7,0.02)(126.2,0.09)(127.8,0.09)(129.9,0.32)(130.9,0.42)(132.5,0.42)(133.2,0.33)(134.5,0.49)(136.1,0.49)(136.9,0.36)(137.9,0.18)(142.3,0.18)(143.4,0.28)(146.5,0.28)(148,0.18)(149.8,0.08)(153.7,0.08)(154.8,0.26)(156.8,0.42)(159.4,0.42)(161.3,0.55)(163.1,0.55)(164.6,0.47)(166.2,0.69)(170.3,0.69)(171.6,0.64)(173.4,0.41)(175.8,0.31)(177.6,0.28)(178.4,0.14)(179.4,0.33)(181.2,0.33)(182.3,0.2)(184.6,0.2)(185.4,0.49)(186.7,0.24)(188.2,0.42)(190.6,0.42)(191.6,0.29)(192.6,0.15)(193.7,0.42)(195.5,0.31)(199.9,0.31)(200.9,0)(203,0)(205.1,0.42)(206.9,0.42)(208.2,0.69)(209.7,0.69)(211.3,0.42)(213.4,0.29)(214.7,0)(216.2,0.56)(218.2,0.65)(219.8,0.65)(220.9,1.2)(222.4,1.32)(224.4,1.46)(225.8,1.46)(226.3,1.54)(227.3,1.18)(229,1.4)(230.4,1.6)(231.4,1.62)(232.2,2.07)(233.5,2.0)(235.5,2.0)};
\node[font=\fontsize{13}{15}\selectfont, text=black!90] at (axis cs:161.5,1.6) {沖縄県};
\draw[-{Triangle[length=2mm,width=1.6mm]}, draw=labc, fill=labc, line width=0.9pt] (axis cs:163.3,1.36) -- (axis cs:167.1,0.78);
\end{axis}
\end{tikzpicture}
\end{document}
